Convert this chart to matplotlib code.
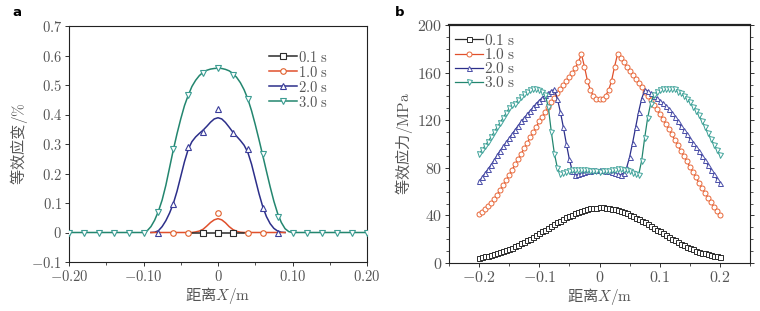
import numpy as np
import matplotlib
matplotlib.use("Agg")
import matplotlib.pyplot as plt
from matplotlib.ticker import FixedLocator, FixedFormatter, MultipleLocator

plt.rcParams['mathtext.fontset'] = 'cm'
plt.rcParams['font.family'] = ['DejaVu Sans']

# --- DATA: panel a (equivalent strain, %) ---
labels = ['0.1 s', '1.0 s', '2.0 s', '3.0 s']
colors = ['#2b2b2b', '#e0502c', '#2c2f8a', '#23866f']

# sample markers
a_black_x = [-0.02, 0.0, 0.02]
a_black_y = [0, 0, 0]
a_red_x = [-0.06, -0.04, 0.0, 0.04, 0.06]
a_red_y = [0, 0, 0.066, 0, 0]
a_blue_x = [-0.08, -0.06, -0.04, -0.02, 0.0, 0.02, 0.04, 0.06, 0.08]
a_blue_y = [0, 0.098, 0.290, 0.341, 0.418, 0.336, 0.282, 0.083, 0]
a_green_x = [-0.20, -0.18, -0.16, -0.14, -0.12, -0.10, -0.08, -0.06, -0.04, -0.02, 0.0,
             0.02, 0.04, 0.06, 0.08, 0.10, 0.12, 0.14, 0.16, 0.18, 0.20]
a_green_y = [0, 0, 0, 0, 0, 0, 0.071, 0.282, 0.467, 0.539, 0.558,
             0.534, 0.453, 0.265, 0.053, 0, 0, 0, 0, 0, 0]

# fitted curves
fit_black_x = [-0.035, 0.035]
fit_black_y = [0, 0]
fit_red_x = [-0.09, -0.035, -0.030, -0.025, -0.020, -0.015, -0.010, -0.005, 0.0,
             0.005, 0.010, 0.015, 0.020, 0.025, 0.030, 0.035, 0.09]
fit_red_y = [0, 0, 0.002, 0.005, 0.011, 0.022, 0.034, 0.043, 0.047,
             0.043, 0.033, 0.020, 0.010, 0.004, 0.001, 0, 0]
fit_blue_x = np.linspace(-0.09, 0.09, 37)
fit_blue_y = [0.000, 0.001, 0.006, 0.020, 0.040, 0.066, 0.098, 0.140, 0.190, 0.240,
              0.282, 0.308, 0.324, 0.336, 0.347, 0.360, 0.374, 0.385, 0.389,
              0.385, 0.373, 0.357, 0.340, 0.326, 0.312, 0.296, 0.272, 0.232, 0.182,
              0.132, 0.088, 0.054, 0.030, 0.014, 0.005, 0.001, 0.000]
fit_green_x = [-0.20] + list(np.linspace(-0.10, 0.10, 41)) + [0.20]
fit_green_y = [0.000,
               0.000, 0.006, 0.020, 0.042, 0.072, 0.110, 0.160, 0.220, 0.280, 0.335,
               0.385, 0.430, 0.465, 0.495, 0.516, 0.532, 0.543, 0.550, 0.554, 0.556,
               0.557,
               0.556, 0.553, 0.548, 0.539, 0.526, 0.508, 0.484, 0.453, 0.413, 0.366,
               0.315, 0.262, 0.208, 0.155, 0.106, 0.065, 0.034, 0.013, 0.003, 0.000,
               0.000]

# --- DATA: panel b (equivalent stress, MPa) ---
b_x = np.linspace(-0.2, 0.2, 81)
b_01 = [4.5, 5.0, 5.5, 6.0, 6.7, 7.4, 8.2, 9.0, 9.8, 10.7,
        11.7, 12.8, 13.9, 15.1, 16.4, 17.7, 19.1, 20.5, 22.0, 23.5,
        25.0, 26.6, 28.1, 29.7, 31.2, 32.7, 34.2, 35.6, 37.0, 38.3,
        39.5, 40.7, 41.8, 42.8, 43.7, 44.5, 45.2, 45.8, 46.3, 46.6,
        46.8,
        46.7, 46.5, 46.2, 45.7, 45.1, 44.4, 43.6, 42.7, 41.7, 40.6,
        39.4, 38.2, 36.9, 35.5, 34.1, 32.6, 31.1, 29.6, 28.0, 26.5,
        25.0, 23.4, 21.9, 20.4, 19.0, 17.6, 16.2, 14.9, 13.7, 12.6,
        11.5, 10.5, 9.6, 8.8, 8.0, 7.3, 6.6, 6.0, 5.5, 5.0]
b_10 = [41.5, 43.0, 45.0, 47.5, 50.5, 54.0, 57.5, 61.5, 65.5, 69.5,
        74.0, 78.5, 83.0, 87.5, 92.0, 96.5, 101.0, 105.5, 110.0, 114.5,
        119.0, 123.0, 127.0, 131.0, 135.0, 139.0, 142.5, 146.0, 149.5, 153.0,
        156.5, 160.0, 164.0, 169.0, 175.5, 165.0, 153.0, 145.0, 140.5, 138.0,
        137.5,
        138.0, 140.5, 145.0, 153.0, 165.0, 175.5, 172.0, 168.5, 165.0, 161.5,
        158.0, 154.5, 151.0, 147.5, 144.0, 140.5, 137.0, 133.0, 129.0, 125.0,
        121.0, 117.0, 112.5, 108.0, 103.5, 99.0, 94.5, 90.0, 85.5, 81.0,
        76.5, 72.0, 67.5, 63.0, 59.0, 55.0, 51.0, 47.0, 43.5, 40.5]
b_20 = [68.5, 72.0, 75.5, 79.0, 82.5, 86.5, 90.5, 94.5, 98.0, 101.5,
        105.0, 108.5, 112.0, 115.5, 119.0, 122.0, 125.0, 128.0, 131.0, 134.0,
        136.5, 139.0, 141.0, 143.0, 144.5, 146.0, 138.0, 127.0, 114.0, 100.0,
        87.0, 77.0, 74.0, 74.5, 75.5, 76.5, 77.0, 77.5, 78.0, 78.0,
        78.0,
        78.0, 77.5, 77.0, 76.5, 75.5, 74.5, 74.0, 75.5, 80.0, 89.0,
        101.0, 114.0, 127.0, 138.0, 145.0, 144.5, 142.5, 140.5, 138.5, 136.5,
        134.5, 132.0, 129.0, 126.0, 122.5, 119.0, 115.0, 111.5, 108.0, 104.5,
        101.0, 97.5, 94.0, 90.0, 86.5, 82.5, 78.5, 74.5, 70.5, 67.0]
b_30 = [91.5, 95.0, 98.5, 102.0, 106.0, 110.0, 114.0, 118.0, 122.0, 126.0,
        130.0, 133.0, 134.0, 137.0, 139.5, 142.0, 144.0, 145.5, 146.0, 146.0,
        145.5, 144.0, 141.0, 131.0, 110.0, 92.0, 80.0, 74.5, 75.5, 76.5,
        77.5, 78.0, 78.5, 78.5, 78.5, 78.0, 78.0, 77.5, 77.0, 77.0,
        76.5,
        77.0, 77.0, 77.5, 78.0, 78.5, 79.0, 79.0, 78.5, 78.0, 77.0,
        76.0, 75.0, 74.0, 86.0, 105.0, 122.0, 134.0, 141.0, 143.5, 145.0,
        146.0, 146.5, 146.5, 146.5, 146.0, 144.0, 142.5, 140.5, 138.0, 135.0,
        131.5, 128.0, 124.0, 119.5, 114.5, 109.5, 104.5, 99.5, 95.0, 90.5]

text_col = '#555555'
cjk = ['Noto Sans CJK SC', 'DejaVu Sans']
fs_leg = 10.5
fs_lab = 11

fig = plt.figure(figsize=(7.6, 3.11), dpi=100)
ax1 = fig.add_axes([69/760, 49/311, 298/760, 236/311])
ax2 = fig.add_axes([449/760, 48/311, 301/760, 238/311])

leg_labels = [r'$0.1\ \mathrm{s}$', r'$1.0\ \mathrm{s}$', r'$2.0\ \mathrm{s}$', r'$3.0\ \mathrm{s}$']

# ---------------- panel a ----------------
ms_a = 4
ax1.plot(fit_green_x, fit_green_y, color=colors[3], lw=1.1, zorder=2)
ax1.plot(fit_blue_x, fit_blue_y, color=colors[2], lw=1.1, zorder=3)
ax1.plot(fit_red_x, fit_red_y, color=colors[1], lw=1.1, zorder=4)
ax1.plot(fit_black_x, fit_black_y, color=colors[0], lw=1.1, zorder=5)

mk = ['s', 'o', '^', 'v']
pts = [(a_black_x, a_black_y), (a_red_x, a_red_y), (a_blue_x, a_blue_y), (a_green_x, a_green_y)]
mcol_a = ['#2b2b2b', '#e0602c', '#3a3d9a', '#3c9c92']
for (px, py), m, c in zip(pts, mk, mcol_a):
    ax1.plot(px, py, ls='none', marker=m, ms=ms_a, mfc='white', mec=c, mew=0.8, zorder=6)

# legend proxies
handles = []
for m, c, mc in zip(mk, colors, mcol_a):
    h, = ax1.plot([], [], color=c, lw=1.1, marker=m, ms=ms_a, mfc='white', mec=mc, mew=0.8)
    handles.append(h)
leg = ax1.legend(handles, leg_labels, loc='upper left', bbox_to_anchor=(0.672, 0.9),
                 frameon=False, fontsize=fs_leg, handlelength=1.9, handletextpad=0.1,
                 labelspacing=0.0, borderpad=0, borderaxespad=0)
for t in leg.get_texts():
    t.set_color(text_col)

ax1.set_xlim(-0.2, 0.2)
ax1.set_ylim(-0.1, 0.7)
xt1 = [-0.2, -0.1, 0.0, 0.1, 0.2]
ax1.xaxis.set_major_locator(FixedLocator(xt1))
ax1.xaxis.set_major_formatter(FixedFormatter([r'$-0.20$', r'$-0.10$', r'$0$', r'$0.10$', r'$0.20$']))
ax1.xaxis.set_minor_locator(MultipleLocator(0.05))
yt1 = [-0.1, 0, 0.1, 0.2, 0.3, 0.4, 0.5, 0.6, 0.7]
ax1.yaxis.set_major_locator(FixedLocator(yt1))
ax1.yaxis.set_major_formatter(FixedFormatter([r'$-0.1$', r'$0$', r'$0.1$', r'$0.2$', r'$0.3$',
                                              r'$0.4$', r'$0.5$', r'$0.6$', r'$0.7$']))
ax1.set_xlabel(r'距离$X/\mathrm{m}$', family=cjk, fontsize=fs_lab, color=text_col, labelpad=1)
ax1.set_ylabel(r'等效应变$/\%$', family=cjk, fontsize=fs_lab, color=text_col, labelpad=1)

# ---------------- panel b ----------------
ms_b = 3.6
series_b = [b_01, b_10, b_20, b_30]
mcol_b = ['#2b2b2b', '#e8683a', '#4a4ea8', '#3fa39a']
for yv, m, c, mc in zip(series_b, mk, colors, mcol_b):
    ax2.plot(b_x, yv, color=c, lw=0.9, marker=m, ms=ms_b, mfc='white', mec=mc, mew=0.7)
leg2 = ax2.legend(leg_labels, loc='upper left', bbox_to_anchor=(0.02, 0.968),
                  frameon=False, fontsize=fs_leg + 0.5, handlelength=1.8, handletextpad=0.1,
                  labelspacing=-0.05, borderpad=0, borderaxespad=0)
for t in leg2.get_texts():
    t.set_color(text_col)

ax2.set_xlim(-0.25, 0.25)
ax2.set_ylim(0, 200)
xt2 = [-0.2, -0.1, 0.0, 0.1, 0.2]
ax2.xaxis.set_major_locator(FixedLocator(xt2))
ax2.xaxis.set_major_formatter(FixedFormatter([r'$-0.2$', r'$-0.1$', r'$0$', r'$0.1$', r'$0.2$']))
ax2.xaxis.set_minor_locator(MultipleLocator(0.05))
yt2 = [0, 40, 80, 120, 160, 200]
ax2.yaxis.set_major_locator(FixedLocator(yt2))
ax2.yaxis.set_major_formatter(FixedFormatter([r'$%d$' % v for v in yt2]))
ax2.yaxis.set_minor_locator(MultipleLocator(10))
ax2.set_xlabel(r'距离$X/\mathrm{m}$', family=cjk, fontsize=fs_lab, color=text_col, labelpad=1)
ax2.set_ylabel(r'等效应力$/\mathrm{MPa}$', family=cjk, fontsize=fs_lab, color=text_col, labelpad=1)
ax2.tick_params(axis='y', which='both', right=True)
ax2.spines['top'].set_linewidth(1.6)

for ax, fst in ((ax1, 10.5), (ax2, 11.5)):
    ax.tick_params(axis='both', which='major', direction='out', length=3, width=0.7,
                   labelsize=fst, labelcolor=text_col, color='#333333', pad=2)
    ax.tick_params(axis='both', which='minor', direction='out', length=2, width=0.6, color='#333333')
    for s in ax.spines.values():
        s.set_color('#222222')
        s.set_linewidth(max(s.get_linewidth(), 0.8))

fig.text(12/760, 1 - 12/311, 'a', fontsize=9.5, fontweight='bold', va='center', ha='left')
fig.text(395/760, 1 - 12/311, 'b', fontsize=9.5, fontweight='bold', va='center', ha='left')

fig.savefig('out.png', dpi=100)
